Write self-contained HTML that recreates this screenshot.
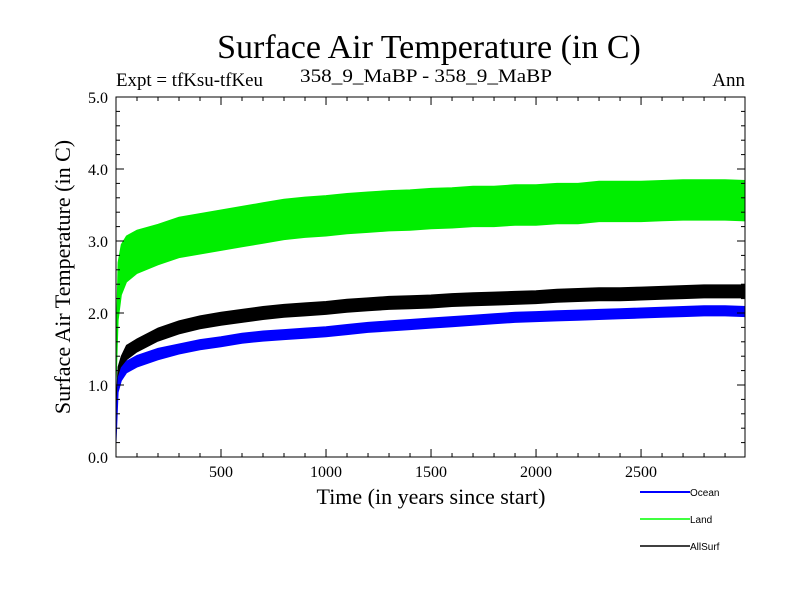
<!DOCTYPE html>
<html><head><meta charset="utf-8"><style>
body{margin:0;background:#fff}
svg text{font-family:"Liberation Serif",serif}
</style></head><body>
<svg id="c" width="800" height="600" xmlns="http://www.w3.org/2000/svg">
<text x="429" y="58" font-size="34" text-anchor="middle">Surface Air Temperature (in C)</text>
<text x="116" y="86" font-size="19" textLength="147" lengthAdjust="spacingAndGlyphs">Expt = tfKsu-tfKeu</text>
<text x="300" y="82" font-size="19" textLength="252" lengthAdjust="spacingAndGlyphs">358_9_MaBP - 358_9_MaBP</text>
<text x="745" y="86" font-size="19" text-anchor="end">Ann</text>
<text transform="translate(70,277) rotate(-90)" font-size="22" text-anchor="middle">Surface Air Temperature (in C)</text>
<text x="431" y="504" font-size="22" text-anchor="middle">Time (in years since start)</text>
<g id="series"></g>
<g id="axes"></g>
<rect x="116" y="97" width="629" height="360" fill="none" stroke="#000" stroke-width="1"/>
<g font-size="10">
<line x1="640" y1="492" x2="690" y2="492" stroke="#0000ff" stroke-width="2"/>
<text x="690" y="496" style="font-family:'Liberation Sans',sans-serif">Ocean</text>
<line x1="640" y1="519" x2="690" y2="519" stroke="#00ff00" stroke-width="1.5"/>
<text x="690" y="523" style="font-family:'Liberation Sans',sans-serif">Land</text>
<line x1="640" y1="546" x2="690" y2="546" stroke="#000" stroke-width="1.5"/>
<text x="690" y="550" style="font-family:'Liberation Sans',sans-serif">AllSurf</text>
</g>
</svg>
<script>
const years = [0,10,25,50,100,200,300,400,500,600,700,800,900,1000,1100,1200,1300,1400,1500,1600,1700,1800,1900,2000,2100,2200,2300,2400,2500,2600,2700,2800,2900,2995];
const landMean = [1.2,2.3,2.6,2.75,2.85,2.95,3.05,3.1,3.15,3.2,3.25,3.3,3.33,3.35,3.38,3.4,3.42,3.43,3.45,3.46,3.48,3.48,3.5,3.5,3.52,3.52,3.55,3.55,3.55,3.56,3.57,3.57,3.57,3.56];
const landSpread = [0.2,0.4,0.35,0.32,0.3,0.28,0.28,0.28,0.28,0.28,0.28,0.28,0.28,0.28,0.28,0.28,0.28,0.28,0.28,0.28,0.28,0.28,0.28,0.28,0.28,0.28,0.28,0.28,0.28,0.28,0.28,0.28,0.28,0.28];
const allMean = [0.6,1.15,1.3,1.45,1.55,1.7,1.8,1.87,1.92,1.96,2.0,2.03,2.05,2.07,2.1,2.12,2.14,2.15,2.16,2.18,2.19,2.2,2.21,2.22,2.24,2.25,2.26,2.26,2.27,2.28,2.29,2.3,2.3,2.3];
const allSpread = [0.1,0.1,0.1,0.1,0.09,0.09,0.09,0.09,0.09,0.09,0.09,0.09,0.09,0.09,0.09,0.09,0.09,0.09,0.09,0.09,0.09,0.09,0.09,0.09,0.09,0.09,0.09,0.09,0.09,0.09,0.09,0.09,0.09,0.09];
const oceanMean = [0.3,1.0,1.15,1.25,1.33,1.43,1.5,1.56,1.6,1.65,1.68,1.7,1.72,1.74,1.77,1.8,1.82,1.84,1.86,1.88,1.9,1.92,1.94,1.95,1.96,1.97,1.98,1.99,2.0,2.01,2.02,2.03,2.03,2.02];
const oceanSpread = [0.1,0.1,0.09,0.08,0.08,0.08,0.07,0.07,0.07,0.07,0.07,0.07,0.07,0.07,0.07,0.07,0.07,0.07,0.07,0.07,0.07,0.07,0.07,0.07,0.07,0.07,0.07,0.07,0.07,0.07,0.07,0.07,0.07,0.07];
const xTicks = [500,1000,1500,2000,2500];
const yTicks = [0,1,2,3,4,5];
const NS="http://www.w3.org/2000/svg";
const X0=116,X1=745,Y0=457,Y1=97,XMAX=2995,YMAX=5;
function xs(v){return X0+(v/XMAX)*(X1-X0);}
function ys(v){return Y0-(v/YMAX)*(Y0-Y1);}
const sg=document.getElementById('series'), ag=document.getElementById('axes');
function band(mean,spread,color,name){
  let up=years.map((y,i)=>xs(y).toFixed(1)+','+ys(mean[i]+spread[i]).toFixed(1));
  let lo=years.map((y,i)=>xs(y).toFixed(1)+','+ys(mean[i]-spread[i]).toFixed(1)).reverse();
  const p=document.createElementNS(NS,'polygon');
  p.setAttribute('points',up.concat(lo).join(' '));
  p.setAttribute('fill',color);p.setAttribute('stroke',color);p.setAttribute('stroke-width','1');
  
  
  sg.appendChild(p);
}
band(landMean,landSpread,'#00ee00','land-series');
band(allMean,allSpread,'#000000','allsurf-series');
band(oceanMean,oceanSpread,'#0000ff','ocean-series');
function line(x1,y1,x2,y2){const l=document.createElementNS(NS,'line');
  l.setAttribute('x1',x1);l.setAttribute('y1',y1);l.setAttribute('x2',x2);l.setAttribute('y2',y2);
  l.setAttribute('stroke','#000');l.setAttribute('stroke-width','1');
  
  
  ag.appendChild(l);}
for(let v=100;v<XMAX;v+=100){const x=xs(v),maj=v%500===0?8:4;line(x,Y0,x,Y0-maj);line(x,Y1,x,Y1+maj);}
for(let v=0.2;v<YMAX;v+=0.2){const y=ys(v),maj=Math.abs(v-Math.round(v))<0.01?8:4;line(X0,y,X0+maj,y);line(X1,y,X1-maj,y);}
xTicks.forEach(v=>{const t=document.createElementNS(NS,'text');
  t.setAttribute('x',xs(v));t.setAttribute('y',Y0+20);t.setAttribute('text-anchor','middle');t.setAttribute('font-size','16');
  
  
  t.textContent=v;ag.appendChild(t);});
yTicks.forEach(v=>{const t=document.createElementNS(NS,'text');
  t.setAttribute('x',X0-8);t.setAttribute('y',ys(v)+6);t.setAttribute('text-anchor','end');t.setAttribute('font-size','16');
  
  
  t.textContent=v.toFixed(1);ag.appendChild(t);});
</script>
</body></html>
